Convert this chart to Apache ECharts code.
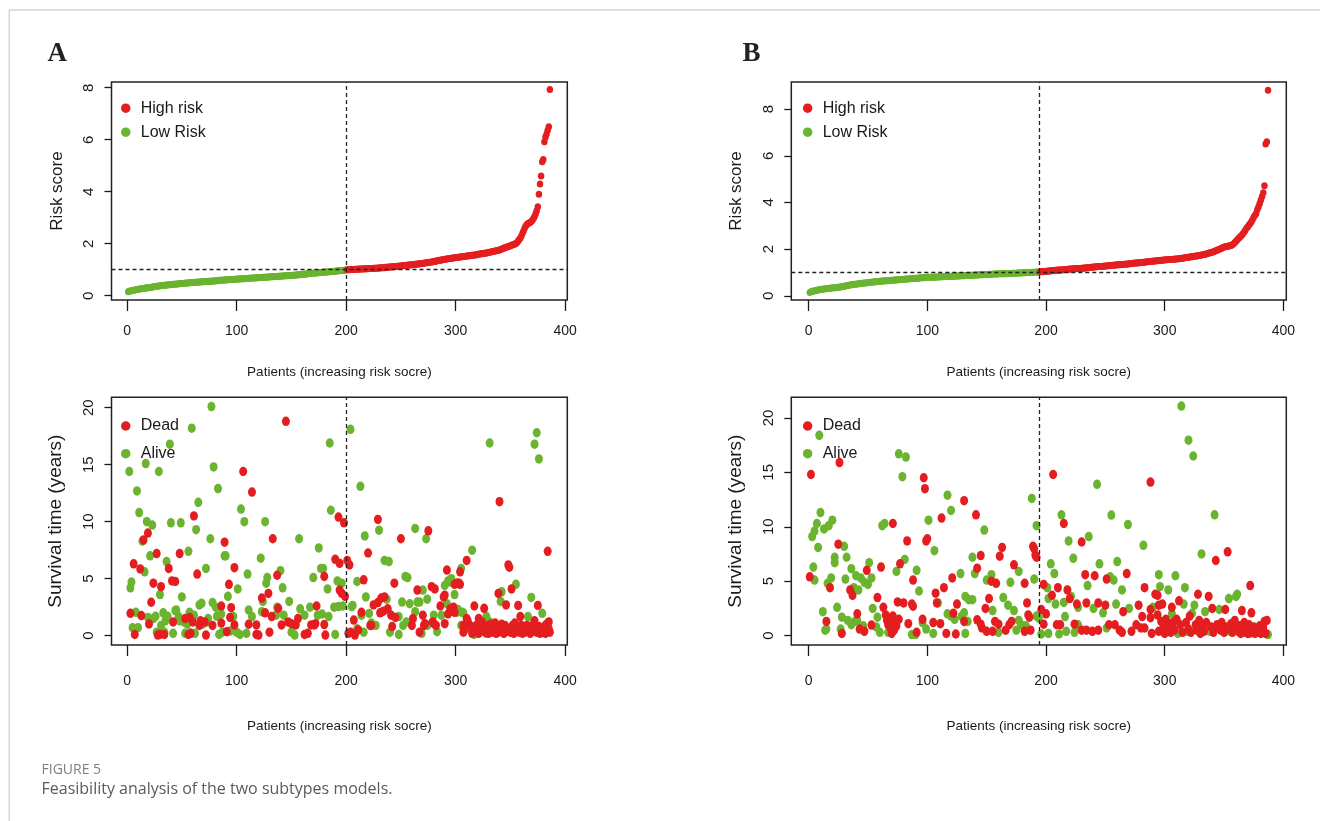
<!DOCTYPE html>
<html><head><meta charset="utf-8">
<script src="https://cdn.jsdelivr.net/npm/echarts@6/dist/echarts.min.js"></script>
<style>html,body{margin:0;padding:0;background:#fff}#c{width:1320px;height:821px}</style>
</head><body><div id="c"></div><script>
// ---------- data ----------
const riskA = [
0.15,0.17,0.18,0.19,0.20,0.21,0.22,0.23,0.24,0.25,
0.26,0.26,0.27,0.28,0.28,0.29,0.30,0.30,0.31,0.32,
0.32,0.33,0.33,0.34,0.35,0.35,0.36,0.36,0.37,0.38,
0.38,0.39,0.39,0.40,0.40,0.41,0.41,0.42,0.42,0.43,
0.43,0.44,0.44,0.44,0.45,0.45,0.46,0.46,0.47,0.47,
0.47,0.48,0.48,0.49,0.49,0.49,0.50,0.50,0.51,0.51,
0.51,0.52,0.52,0.52,0.53,0.53,0.53,0.54,0.54,0.54,
0.55,0.55,0.55,0.56,0.56,0.56,0.56,0.57,0.57,0.57,
0.58,0.58,0.58,0.59,0.59,0.59,0.59,0.60,0.60,0.60,
0.61,0.61,0.61,0.62,0.62,0.62,0.62,0.63,0.63,0.63,
0.64,0.64,0.64,0.65,0.65,0.65,0.65,0.66,0.66,0.66,
0.67,0.67,0.67,0.68,0.68,0.68,0.68,0.69,0.69,0.69,
0.70,0.70,0.70,0.71,0.71,0.71,0.71,0.72,0.72,0.72,
0.73,0.73,0.73,0.74,0.74,0.74,0.74,0.75,0.75,0.75,
0.76,0.76,0.76,0.77,0.77,0.77,0.77,0.78,0.78,0.78,
0.79,0.79,0.79,0.80,0.80,0.81,0.81,0.81,0.82,0.82,
0.83,0.83,0.83,0.84,0.84,0.85,0.85,0.85,0.86,0.86,
0.87,0.87,0.87,0.88,0.88,0.89,0.89,0.89,0.90,0.90,
0.91,0.91,0.91,0.92,0.92,0.93,0.93,0.93,0.94,0.94,
0.95,0.95,0.96,0.96,0.97,0.97,0.97,0.98,0.98,0.99,
1.00,1.00,1.00,1.01,1.01,1.01,1.01,1.02,1.02,1.02,
1.02,1.03,1.03,1.03,1.03,1.03,1.04,1.04,1.04,1.04,
1.05,1.05,1.05,1.05,1.06,1.06,1.06,1.06,1.07,1.07,
1.07,1.08,1.08,1.08,1.08,1.09,1.09,1.09,1.10,1.10,
1.10,1.11,1.11,1.12,1.12,1.12,1.13,1.13,1.14,1.14,
1.15,1.15,1.16,1.16,1.17,1.17,1.18,1.18,1.19,1.19,
1.20,1.20,1.21,1.21,1.22,1.22,1.23,1.23,1.24,1.25,
1.25,1.26,1.27,1.27,1.28,1.29,1.29,1.30,1.31,1.32,
1.33,1.33,1.34,1.35,1.36,1.36,1.37,1.38,1.39,1.40,
1.40,1.41,1.42,1.43,1.43,1.44,1.45,1.45,1.46,1.47,
1.47,1.48,1.48,1.49,1.50,1.50,1.51,1.51,1.52,1.53,
1.53,1.54,1.54,1.55,1.56,1.56,1.57,1.57,1.58,1.59,
1.59,1.60,1.61,1.61,1.62,1.63,1.63,1.64,1.65,1.66,
1.67,1.68,1.69,1.70,1.71,1.72,1.73,1.74,1.75,1.76,
1.78,1.80,1.82,1.83,1.85,1.86,1.87,1.89,1.90,1.92,
1.94,1.96,1.97,1.99,2.01,2.05,2.10,2.16,2.22,2.30,
2.40,2.50,2.60,2.68,2.74,2.78,2.80,2.82,2.85,2.90,
2.97,3.05,3.15,3.28,3.42,3.90,4.30,4.60,5.15,5.24,
5.92,6.10,6.22,6.36,6.50,7.93];
const riskB = [
0.14,0.17,0.19,0.20,0.22,0.23,0.24,0.25,0.26,0.27,
0.28,0.28,0.29,0.30,0.30,0.31,0.31,0.32,0.33,0.33,
0.34,0.35,0.35,0.36,0.37,0.38,0.38,0.39,0.40,0.41,
0.42,0.43,0.44,0.45,0.46,0.47,0.48,0.49,0.50,0.50,
0.51,0.52,0.52,0.53,0.54,0.54,0.55,0.55,0.56,0.57,
0.57,0.58,0.58,0.59,0.59,0.60,0.60,0.61,0.61,0.62,
0.62,0.63,0.63,0.64,0.64,0.65,0.65,0.66,0.66,0.67,
0.67,0.68,0.68,0.68,0.69,0.69,0.70,0.70,0.70,0.71,
0.71,0.72,0.72,0.72,0.73,0.73,0.74,0.74,0.74,0.75,
0.75,0.75,0.76,0.76,0.77,0.77,0.77,0.78,0.78,0.79,
0.79,0.79,0.79,0.80,0.80,0.80,0.81,0.81,0.81,0.81,
0.82,0.82,0.82,0.82,0.83,0.83,0.83,0.83,0.84,0.84,
0.84,0.84,0.84,0.85,0.85,0.85,0.85,0.86,0.86,0.86,
0.86,0.87,0.87,0.87,0.87,0.88,0.88,0.88,0.88,0.89,
0.89,0.89,0.89,0.90,0.90,0.90,0.90,0.91,0.91,0.91,
0.91,0.92,0.92,0.92,0.92,0.93,0.93,0.93,0.93,0.94,
0.94,0.94,0.94,0.95,0.95,0.95,0.95,0.96,0.96,0.96,
0.96,0.97,0.97,0.97,0.97,0.98,0.98,0.98,0.98,0.99,
0.99,0.99,0.99,1.00,1.00,1.00,1.00,1.01,1.01,1.01,
1.01,1.02,1.02,1.02,1.03,1.03,1.04,1.04,1.04,1.05,
1.05,1.06,1.06,1.07,1.07,1.08,1.08,1.09,1.09,1.10,
1.10,1.11,1.11,1.12,1.12,1.13,1.13,1.14,1.14,1.15,
1.15,1.15,1.16,1.16,1.16,1.17,1.17,1.17,1.17,1.18,
1.18,1.19,1.19,1.20,1.20,1.21,1.21,1.22,1.22,1.23,
1.23,1.24,1.24,1.25,1.25,1.26,1.26,1.27,1.27,1.28,
1.28,1.29,1.29,1.30,1.30,1.31,1.31,1.32,1.32,1.33,
1.33,1.33,1.34,1.34,1.34,1.35,1.35,1.36,1.36,1.37,
1.37,1.38,1.39,1.39,1.40,1.40,1.41,1.42,1.42,1.43,
1.43,1.44,1.44,1.45,1.46,1.46,1.47,1.47,1.48,1.48,
1.49,1.49,1.50,1.50,1.51,1.51,1.52,1.52,1.53,1.53,
1.54,1.54,1.55,1.55,1.56,1.56,1.57,1.57,1.58,1.58,
1.59,1.59,1.60,1.61,1.61,1.62,1.63,1.64,1.64,1.65,
1.66,1.67,1.67,1.68,1.69,1.70,1.71,1.72,1.73,1.74,
1.75,1.76,1.77,1.78,1.79,1.81,1.82,1.84,1.85,1.87,
1.89,1.91,1.93,1.95,1.97,1.99,2.02,2.04,2.07,2.09,
2.10,2.11,2.12,2.13,2.14,2.16,2.19,2.23,2.28,2.34,
2.39,2.45,2.50,2.55,2.60,2.67,2.74,2.82,2.90,2.96,
3.03,3.10,3.17,3.27,3.38,3.45,3.53,3.70,3.81,3.95,
4.10,4.25,4.41,4.71,6.50,6.60,8.81];
const cutA = 200;
const cutB = 194;
const aliveA = [[2,14.4],[3,4.2],[4,4.7],[5,0.7],[8,2.05],[9,12.7],[10,0.7],[11,10.8],[14,8.3],[16,5.6],[17,15.1],[18,10.0],[19,1.6],[21,7.0],[23,9.7],[24,1.5],[26,1.7],[27,0.3],[29,14.4],[30,3.6],[31,0.9],[33,2.0],[34,0.3],[35,1.3],[36,6.5],[37,1.7],[39,16.8],[40,9.9],[42,0.2],[44,2.2],[45,2.25],[47,1.67],[48,1.3],[49,9.9],[50,3.4],[52,1.2],[53,0.2],[55,1.0],[56,7.4],[57,2.05],[58,0.2],[59,18.2],[61,1.8],[62,0.2],[63,9.3],[65,11.7],[66,2.7],[68,2.84],[69,1.0],[72,5.9],[73,1.2],[74,1.5],[76,8.5],[77,20.1],[78,2.9],[79,14.8],[81,2.5],[82,1.7],[83,12.9],[84,0.1],[86,1.9],[87,0.3],[89,7.0],[90,7.0],[92,3.45],[94,0.4],
[97,1.67],[100,0.3],[101,4.1],[103,0.1],[104,11.1],[107,10.0],[109,0.2],[110,5.4],[111,2.25],[114,1.67],[122,6.8],[123,2.1],[124,3.0],[126,10.0],[127,4.6],[128,5.1],[136,1.8],[137,2.5],[140,5.7],[142,4.2],[143,1.8],[148,3.0],[150,0.3],[153,0.05],[157,8.5],[158,2.35],[162,1.8],[167,2.5],[170,5.1],[174,1.8],[175,7.7],[177,5.9],[178,1.9],[179,5.9],[183,4.1],[184,1.67],[185,16.9],[186,11.0],[189,2.5],[190,0.1],[192,4.8],[193,2.55],[196,4.6],[197,2.6],
[204,18.1],[205,2.55],[206,2.65],[210,4.75],[210,0.6],[213,13.1],[214,1.8],[216,0.3],[217,8.75],[218,3.4],[221,1.95],[223,1.1],[227,0.9],[230,9.25],[235,6.6],[237,3.2],[239,6.5],[240,0.3],[248,1.67],[248,0.1],[251,2.95],[252,0.9],[254,5.2],[255,1.2],[256,5.1],[258,2.8],[263,9.4],[263,2.1],[265,2.95],[267,2.95],[269,0.2],[270,4.0],[273,8.5],[274,3.2],[274,0.9],[280,1.8],[283,0.35],[287,1.8],[290,4.4],[292,2.8],[293,4.8],[295,4.7],[296,5.0],[299,3.6],[301,2.05],[302,2.3],[305,5.9],[305,0.9],[306,2.05],[307,2.0],[309,1.0],
[315,7.5],[317,0.1],[328,1.7],[328,0.2],[331,16.9],[331,1.2],[335,0.5],[341,3.0],[342,3.85],[355,4.5],[365,0.5],[366,1.67],[369,3.35],[372,16.8],[373,0.5],[374,17.8],[376,15.5],[379,1.96]];
const deadA = [[3,1.96],[6,6.3],[7,0.1],[12,5.85],[13,1.76],[15,8.4],[19,9.0],[20,1.03],[22,2.93],[24,4.6],[27,7.2],[28,0.05],[30,0.1],[31,4.3],[34,0.1],[38,5.9],[41,4.8],[42,1.2],[44,4.75],[48,7.2],[53,1.5],[56,0.1],[57,1.6],[58,0.2],[60,1.2],[61,10.5],[64,5.4],[66,0.9],[67,1.3],[71,1.2],[72,0.05],[78,0.9],[86,1.1],[86,2.6],[89,8.2],[91,0.35],[93,4.5],[94,1.6],
[95,2.45],[98,5.96],[98,0.94],[106,14.4],[111,1.0],[114,12.6],[118,0.94],[118,0.1],[120,0.05],[123,3.3],[126,2.0],[129,3.7],[130,0.3],[132,1.67],[133,8.5],[137,5.3],[138,2.4],[141,0.94],[145,18.8],[147,1.2],[150,1.05],[154,0.94],[156,1.5],[162,0.1],[165,0.2],[168,0.94],[171,0.94],[172,1.05],[173,2.6],[180,5.2],[180,0.97],[181,0.05],[190,6.7],[193,10.4],[194,6.35],[194,4.0],[196,3.7],[198,9.9],[199,3.45],[201,6.6],[202,0.2],
[203,6.2],[204,0.3],[207,1.37],[208,0.05],[211,0.5],[214,2.05],[216,4.9],[220,7.25],[222,0.9],[223,0.9],[225,2.7],[229,10.2],[229,2.9],[231,2.0],[232,3.3],[234,2.15],[235,3.4],[238,2.35],[241,1.8],[242,0.8],[244,4.6],[245,1.6],[250,8.5],[260,0.9],[261,1.5],[265,4.0],[267,0.3],[270,1.8],[271,0.9],[272,1.05],[275,9.2],[278,4.3],[279,1.2],[280,1.05],[281,4.1],[282,0.9],[286,2.6],[289,3.4],[290,3.55],[290,1.05],[292,5.75],[293,1.9],[295,2.35],[298,2.5],[299,4.5],[299,2.05],[301,4.6],[302,4.6],[303,4.6],[304,5.6],[304,4.5],[307,0.9],[307,0.3],[308,0.5],[309,0.9],[310,6.6],[310,1.5],
[311,1.3],[313,0.9],[315,0.2],[315,0.5],[317,2.6],[318,0.8],[319,0.9],[321,1.5],[321,0.2],[322,1.0],[324,0.6],[324,1.2],[326,2.4],[327,0.3],[327,0.4],[330,0.9],[330,0.2],[332,1.0],[333,0.5],[334,0.3],[336,0.6],[336,1.1],[337,0.2],[338,0.8],[339,3.7],[339,0.3],[340,11.75],[341,0.6],[342,1.0],[344,0.6],[344,0.2],[345,0.9],[346,2.7],[347,0.4],[348,6.2],[348,0.5],[349,6.0],[350,0.3],[351,4.1],[352,0.9],[353,0.6],[353,0.2],[354,1.1],[356,0.4],[357,2.65],[357,0.8],[358,0.3],[359,1.67],[360,0.9],[361,0.2],[362,0.5],[363,0.3],[365,0.9],[367,0.6],[368,0.2],[370,0.9],[371,0.4],[372,1.3],[374,0.3],[375,2.65],[376,0.8],[377,0.2],[378,0.6],[380,0.4],[382,0.9],[382,0.2],[383,1.0],[384,7.4],[385,1.2],[385,0.6],[386,0.3]];
const aliveB = [[3,9.1],[4,6.3],[5,9.6],[5,5.1],[7,10.3],[8,8.1],[9,18.4],[10,11.3],[12,2.2],[13,9.8],[14,0.5],[15,0.6],[16,4.8],[17,10.1],[19,5.3],[20,10.6],[22,7.2],[22,6.7],[24,2.6],[27,0.6],[28,1.7],[30,8.2],[31,5.2],[32,7.2],[33,1.4],[36,6.15],[36,1.0],[38,4.4],[39,1.3],[40,5.5],[41,1.4],[42,4.2],[44,5.3],[46,0.9],[47,4.9],[50,4.7],[51,6.7],[53,5.3],[54,2.5],[57,0.8],[58,1.7],[60,0.3],[62,10.1],[64,10.3],[67,0.3],[74,5.9],[76,16.7],[79,14.6],[81,7.0],[82,16.4],[90,0.1],
[87,0.1],[91,6.0],[93,4.1],[96,1.2],[99,0.6],[101,10.6],[105,0.2],[106,7.8],[109,3.0],[117,12.9],[117,2.0],[120,11.5],[120,1.8],[123,1.5],[128,5.7],[129,1.8],[131,2.1],[132,3.6],[132,0.2],[134,1.3],[135,3.3],[138,7.2],[138,3.3],[140,5.7],[148,9.7],[150,5.1],[154,5.6],[155,2.3],[160,0.3],[164,3.5],[168,2.8],[170,4.9],[173,2.3],[175,0.5],[177,5.9],[177,1.4],[179,1.0],[183,0.9],[188,12.6],[190,5.2],[192,10.1],[192,1.8],
[194,1.6],[196,0.15],[201,4.4],[202,3.4],[202,0.2],[204,6.6],[207,5.7],[208,2.9],[211,0.15],[213,11.1],[215,3.05],[216,1.75],[217,0.4],[219,8.7],[221,3.6],[223,7.1],[224,0.3],[227,2.6],[227,1.0],[235,4.6],[236,9.1],[240,2.5],[243,13.9],[245,6.6],[248,2.1],[251,0.7],[254,5.4],[255,11.07],[257,5.1],[259,2.9],[260,6.8],[264,4.2],[269,10.2],[270,2.5],[282,8.3],[290,2.6],[295,5.6],[296,4.5],
[303,4.2],[306,2.0],[309,5.5],[311,0.2],[314,21.08],[316,2.9],[317,4.4],[319,0.4],[320,17.95],[323,2.05],[324,16.5],[325,2.8],[331,7.5],[334,2.2],[336,0.5],[338,0.4],[342,11.1],[345,0.9],[346,2.4],[354,3.4],[355,0.4],[360,3.6],[361,3.8],[372,0.2],[378,0.5],[387,0.1]];
const deadB = [[1,5.4],[2,14.8],[15,1.3],[18,4.4],[25,8.4],[26,15.9],[28,0.2],[35,4.2],[37,3.7],[41,2.0],[43,0.6],[47,0.4],[49,6.0],[53,0.97],[58,3.5],[61,6.3],[63,2.6],[65,1.9],[66,1.4],[67,1.0],[68,1.6],[69,0.7],[70,1.2],[70,0.2],[71,10.3],[71,1.8],[72,0.5],[73,1.3],[74,0.9],[75,3.1],[76,1.5],[77,6.6],[80,3.0],[83,8.7],[84,1.1],[87,2.9],[88,5.1],[88,2.7],
[91,0.3],[96,1.5],[97,14.5],[98,13.5],[99,8.7],[100,8.9],[105,1.2],[107,3.9],[108,3.0],[111,1.1],[112,10.8],[114,4.4],[116,0.2],[121,5.3],[122,2.05],[124,0.15],[125,2.9],[131,12.4],[131,1.3],[141,11.1],[142,6.2],[142,1.45],[145,7.35],[145,1.05],[146,0.7],[149,2.5],[150,0.4],[152,3.4],[154,5.0],[155,0.4],[157,1.3],[158,4.8],[160,1.05],[161,7.3],[163,8.1],[166,0.5],[169,1.0],[171,1.3],[173,6.5],[182,4.8],[182,0.4],[184,3.0],[185,1.9],[186,1.7],[187,0.5],[189,8.2],[190,8.0],[191,7.4],[192,7.2],
[196,2.4],[198,4.7],[198,1.05],[200,2.0],[205,3.7],[206,14.8],[209,1.0],[210,4.4],[212,1.0],[215,10.3],[218,4.2],[220,3.4],[224,1.05],[226,2.9],[230,8.6],[230,0.5],[233,5.6],[234,3.0],[234,0.5],[239,0.4],[241,5.5],[244,3.0],[244,0.5],[250,2.8],[251,5.2],[253,1.0],[258,1.0],[262,0.5],[264,0.3],[265,2.2],[268,5.7],[272,0.4],[276,1.0],[278,2.8],[280,0.7],[281,1.75],[283,4.4],[283,0.7],[288,14.1],[288,2.4],[288,1.65],[289,0.2],[292,3.8],[294,1.9],[295,2.8],
[294,3.7],[295,0.4],[297,1.3],[298,2.9],[299,0.8],[300,0.2],[301,1.5],[302,0.6],[304,1.0],[305,0.3],[306,2.6],[307,1.2],[308,0.5],[310,1.5],[312,3.2],[313,1.0],[315,0.3],[318,1.2],[320,0.6],[321,1.8],[322,0.3],[326,1.0],[327,0.5],[328,3.8],[329,1.4],[330,0.2],[332,0.9],[333,0.4],[335,1.2],[337,3.6],[339,0.8],[340,2.5],[341,0.3],[343,6.9],[344,1.0],[347,0.5],[348,1.2],[350,0.3],[351,2.4],[352,0.8],[353,7.7],[356,1.1],[357,0.3],[358,0.7],[359,1.4],[362,0.4],[363,0.9],[364,0.2],[365,2.3],[366,0.6],[367,1.2],[368,0.3],[369,0.8],[370,0.2],[371,1.0],[372,4.6],[373,2.1],[374,0.3],[375,0.8],[376,0.2],[377,0.6],[379,0.3],[380,0.9],[381,0.2],[382,0.5],[383,0.8],[384,1.3],[385,0.2],[386,1.4]];
const xTicks = [0, 100, 200, 300, 400];
const riskTicks = [0, 2, 4, 6, 8];
const survTicks = [0, 5, 10, 15, 20];

// ---------- style ----------
const RED = '#E41E20', GREEN = '#6AB42F', INK = '#1a1a1a';
const SANS = "'Liberation Sans',Arial,sans-serif";
const DOT = 'path://M10,0A10,10,0,1,1,10,20A10,10,0,1,1,10,0Z';

const toPts = (arr, from, to) => arr.slice(from, to).map((v, k) => [from + k + 1, v]);

function mkX(gi, min, max, margin, gap) {
  return {
    type: 'value', gridIndex: gi, min: min, max: max,
    axisLine: { show: false, onZero: false }, splitLine: { show: false },
    axisTick: { show: true, length: 11, customValues: xTicks, lineStyle: { color: INK, width: 1.3 } },
    axisLabel: { customValues: xTicks, margin: margin, fontFamily: SANS, fontSize: 14, color: INK },
    name: 'Patients (increasing risk socre)', nameLocation: 'middle', nameGap: gap,
    nameTextStyle: { fontFamily: SANS, fontSize: 13.5, color: INK }
  };
}
function mkY(gi, min, max, ticks, name, nameSize) {
  return {
    type: 'value', gridIndex: gi, min: min, max: max,
    axisLine: { show: false, onZero: false }, splitLine: { show: false },
    axisTick: { show: true, length: 7, customValues: ticks, lineStyle: { color: INK, width: 1.3 } },
    axisLabel: { customValues: ticks, rotate: 90, margin: 15, fontFamily: SANS, fontSize: 15, color: INK },
    name: name, nameLocation: 'middle', nameGap: 46, nameRotate: 90,
    nameTextStyle: { fontFamily: SANS, fontSize: nameSize, color: INK }
  };
}
function markV(cut, withH) {
  const data = [{ xAxis: cut }];
  if (withH) data.push({ yAxis: 1 });
  return { silent: true, symbol: ['none', 'none'], label: { show: false }, animation: false,
    lineStyle: { type: [4, 3], color: '#222', width: 1.3 }, emphasis: { disabled: true }, data: data };
}
function sc(name, xi, data, color, size, mark) {
  const s = { type: 'scatter', name: name, xAxisIndex: xi, yAxisIndex: xi, data: data,
    symbol: DOT, symbolSize: size, itemStyle: { color: color, opacity: 1 }, silent: true };
  if (mark) s.markLine = mark;
  return s;
}
function legend(names, left, top, gap) {
  return { data: names, orient: 'vertical', left: left, top: top, padding: 0,
    icon: 'circle', itemWidth: 20, itemHeight: 9.5, itemGap: gap, selectedMode: false,
    textStyle: { fontFamily: SANS, fontSize: 16, lineHeight: 20, color: INK } };
}
const gridStyle = { show: true, borderColor: '#222', borderWidth: 1.5, backgroundColor: 'transparent' };

const chart = echarts.init(document.getElementById('c'), null, { renderer: 'canvas' });
chart.setOption({
  animation: false,
  backgroundColor: '#ffffff',
  grid: [
    Object.assign({ left: 111.5, top: 82, width: 455.8, height: 218 }, gridStyle),
    Object.assign({ left: 111.5, top: 397.3, width: 455.8, height: 247.7 }, gridStyle),
    Object.assign({ left: 791.3, top: 82, width: 495, height: 218 }, gridStyle),
    Object.assign({ left: 791.3, top: 397.3, width: 495, height: 247.7 }, gridStyle)
  ],
  xAxis: [mkX(0, -14.24, 401.9, 24, 65), mkX(1, -14.24, 401.9, 29, 74), mkX(2, -14.57, 402.4, 24, 65), mkX(3, -14.57, 402.4, 29, 74)],
  yAxis: [
    mkY(0, -0.165, 8.22, riskTicks, 'Risk score', 17),
    mkY(1, -0.82, 20.91, survTicks, 'Survival time (years)', 19),
    mkY(2, -0.18, 9.16, riskTicks, 'Risk score', 17),
    mkY(3, -0.86, 21.89, survTicks, 'Survival time (years)', 19)
  ],
  legend: [
    legend(['High risk', 'Low Risk'], 121, 98.2, 4),
    legend(['Dead', 'Alive'], 121, 416, 7.7),
    legend(['High risk', 'Low Risk'], 802.9, 98.2, 4),
    legend(['Dead', 'Alive'], 802.9, 416, 7.7)
  ],
  series: [
    sc('Low Risk', 0, toPts(riskA, 0, cutA), GREEN, [6.5, 7]),
    sc('High risk', 0, toPts(riskA, cutA, riskA.length), RED, [6.5, 7], markV(cutA, true)),
    sc('Alive', 1, aliveA, GREEN, [8, 9.5]),
    sc('Dead', 1, deadA, RED, [8, 9.5], markV(cutA, false)),
    sc('Low Risk', 2, toPts(riskB, 0, cutB), GREEN, [6.5, 7]),
    sc('High risk', 2, toPts(riskB, cutB, riskB.length), RED, [6.5, 7], markV(cutB, true)),
    sc('Alive', 3, aliveB, GREEN, [8, 9.5]),
    sc('Dead', 3, deadB, RED, [8, 9.5], markV(cutB, false))
  ],
  graphic: [
    { type: 'line', silent: true, shape: { x1: 9.3, y1: 10, x2: 1320, y2: 10 }, style: { stroke: '#d6d6d6', lineWidth: 1.5 } },
    { type: 'line', silent: true, shape: { x1: 9.3, y1: 10, x2: 9.3, y2: 821 }, style: { stroke: '#d6d6d6', lineWidth: 1.5 } },
    { type: 'text', silent: true, x: 47.6, y: 54.5, style: { text: 'A', fontFamily: "'Liberation Serif','Times New Roman',serif", fontWeight: 'bold', fontSize: 27, fill: '#222', align: 'left', verticalAlign: 'middle' } },
    { type: 'text', silent: true, x: 742.5, y: 54.5, style: { text: 'B', fontFamily: "'Liberation Serif','Times New Roman',serif", fontWeight: 'bold', fontSize: 27, fill: '#222', align: 'left', verticalAlign: 'middle' } },
    { type: 'text', silent: true, x: 41.5, y: 770.5, style: { text: 'FIGURE 5', fontFamily: "'Open Sans','Noto Sans',sans-serif", fontSize: 14, fill: '#808080', align: 'left', verticalAlign: 'middle' } },
    { type: 'text', silent: true, x: 41.5, y: 789, style: { text: 'Feasibility analysis of the two subtypes models.', fontFamily: "'Open Sans','Noto Sans',sans-serif", fontSize: 16, fill: '#5a5a5a', align: 'left', verticalAlign: 'middle' } }
  ]
});
</script></body></html>
